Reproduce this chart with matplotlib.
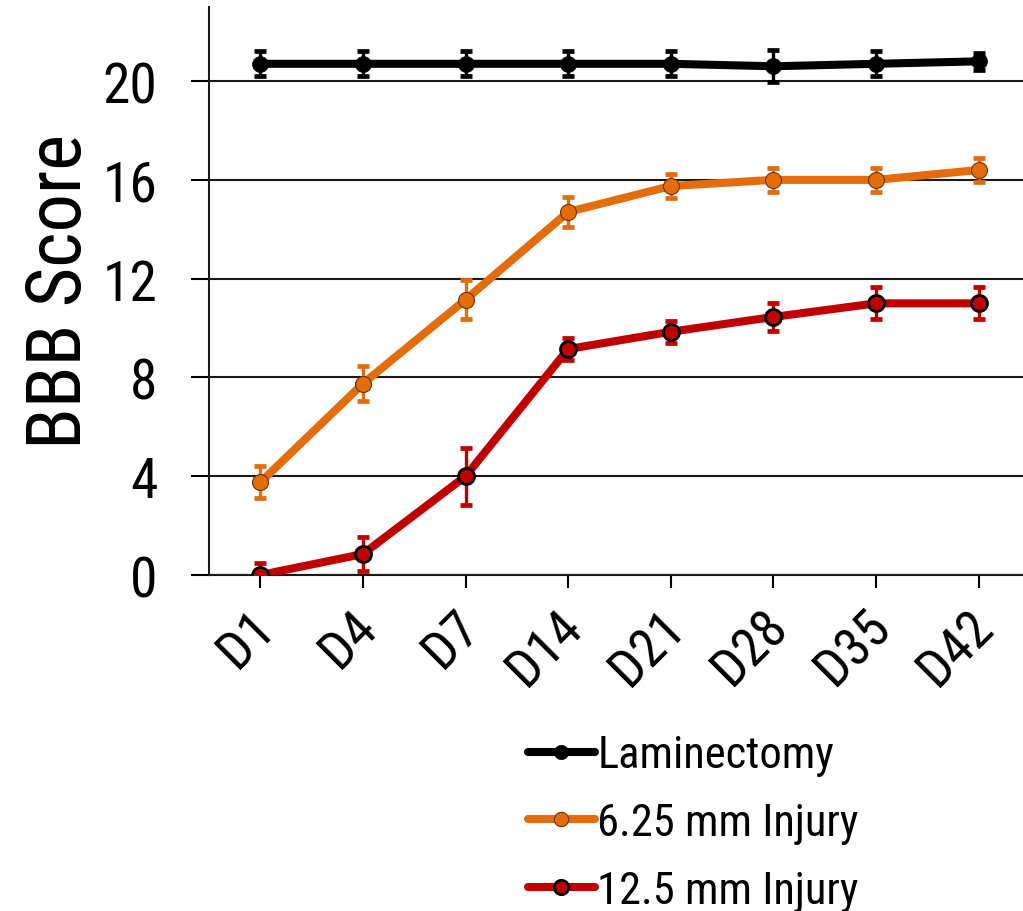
import matplotlib
matplotlib.use("Agg")
import matplotlib.pyplot as plt
from matplotlib import font_manager
from matplotlib.transforms import ScaledTranslation

# ---- data ----
days = ["D1", "D4", "D7", "D14", "D21", "D28", "D35", "D42"]

lam_mean = [20.7, 20.7, 20.7, 20.7, 20.7, 20.6, 20.7, 20.8]
lam_err = [0.5, 0.5, 0.5, 0.5, 0.5, 0.65, 0.5, 0.35]

inj625_mean = [3.75, 7.75, 11.15, 14.7, 15.75, 16.0, 16.0, 16.4]
inj625_err = [0.65, 0.7, 0.8, 0.6, 0.5, 0.5, 0.5, 0.5]

inj125_mean = [0.0, 0.85, 4.0, 9.15, 9.85, 10.45, 11.0, 11.0]
inj125_err = [0.5, 0.7, 1.15, 0.45, 0.45, 0.55, 0.65, 0.65]

series_labels = ["Laminectomy", "6.25 mm Injury", "12.5 mm Injury"]
y_ticks = [0, 4, 8, 12, 16, 20]

# ---- fonts: a narrow grotesque, falling back to a regular one ----
names = {f.name for f in font_manager.fontManager.ttflist}
family = [n for n in ["Liberation Sans Narrow", "Arial Narrow", "Roboto Condensed",
                      "Archivo Narrow", "Liberation Sans", "DejaVu Sans"] if n in names]
plt.rcParams["font.family"] = family

fig = plt.figure(figsize=(10.23, 9.12), dpi=100)
ax = fig.add_axes([209 / 1023, 336 / 912, 821 / 1023, 568 / 912])

x = list(range(len(days)))

styles = [
    dict(color="#000000", mfc="#000000", mec="#000000", mew=0.5),
    dict(color="#E46C0A", mfc="#E46C0A", mec="#6b3305", mew=0.8),
    dict(color="#C00000", mfc="#C00000", mec="#000000", mew=2.0),
]

handles = []
for mean, err, st, lab in zip([lam_mean, inj625_mean, inj125_mean],
                              [lam_err, inj625_err, inj125_err],
                              styles, series_labels):
    ax.errorbar(x, mean, yerr=err, fmt="none", ecolor=st["color"],
                elinewidth=2.4, capsize=4.5, capthick=3.4, zorder=3)
    h, = ax.plot(x, mean, color=st["color"], lw=5.8, marker="o", ms=11.5,
                 mfc=st["mfc"], mec=st["mec"], mew=st["mew"], zorder=4,
                 label=lab, solid_capstyle="round")
    handles.append(h)

ax.set_xlim(-0.5, len(days) - 0.5)
ax.set_ylim(0, 23)
ax.set_yticks(y_ticks)
ax.set_xticks(x)
ax.set_xticklabels(days, rotation=45, ha="right", va="top",
                   rotation_mode="anchor", fontsize=38)
ax.set_yticklabels([str(t) for t in y_ticks], fontsize=40)

ax.yaxis.grid(True, color="#1a1a1a", lw=1.5)
ax.set_axisbelow(True)

for s in ["top", "right"]:
    ax.spines[s].set_visible(False)
for s in ["left", "bottom"]:
    ax.spines[s].set_linewidth(1.5)
    ax.spines[s].set_color("#1a1a1a")

ax.tick_params(axis="y", direction="out", length=13, width=1.5, pad=24)
ax.tick_params(axis="x", direction="out", length=9.5, width=1.5, pad=9)

# nudge the slanted day labels a little to the left
shift = ScaledTranslation(-12 / 100, 0, fig.dpi_scale_trans)
for lbl in ax.get_xticklabels():
    lbl.set_transform(lbl.get_transform() + shift)

ax.set_ylabel("BBB Score", fontsize=55, labelpad=4)

fig.legend(handles=handles, labels=series_labels, loc="upper left",
           bbox_to_anchor=(528 / 1023, 0.194), frameon=False, fontsize=32,
           handlelength=1.5, handletextpad=0.06, labelspacing=0.58,
           borderpad=0, borderaxespad=0, markerscale=0.9)

fig.savefig("out.png", dpi=100)
